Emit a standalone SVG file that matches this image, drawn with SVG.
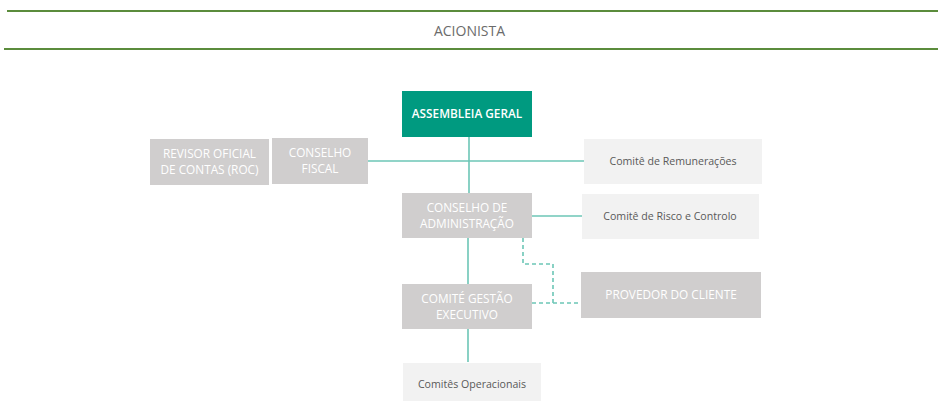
<svg xmlns="http://www.w3.org/2000/svg" width="938" height="401" viewBox="0 0 938 401">
<style>
.g{fill:#d0cece}
.l{fill:#f2f2f2}
.t{font-family:"Open Sans","Liberation Sans",sans-serif;font-size:11.8px;fill:#ffffff;text-anchor:middle}
.d{font-family:"Open Sans","Liberation Sans",sans-serif;font-size:10.6px;fill:#595959;text-anchor:middle}
.c{stroke:#6cc6b6;stroke-width:1.6;fill:none}
.dash{stroke-dasharray:4,3}
</style>
<rect width="938" height="401" fill="#ffffff"/>
<g id="header">
<line x1="7" y1="11" x2="938" y2="11" stroke="#5b8c3c" stroke-width="2"/>
<line x1="4" y1="49" x2="938" y2="49" stroke="#5b8c3c" stroke-width="2"/>
<text x="469.5" y="36" font-family="'Open Sans','Liberation Sans',sans-serif" font-size="14" fill="#6b6b6b" text-anchor="middle">ACIONISTA</text>
</g>
<g id="connectors">
<line class="c" x1="469" y1="137" x2="469" y2="193"/>
<line class="c" x1="368" y1="161" x2="584" y2="161"/>
<line class="c" x1="532" y1="216" x2="582" y2="216"/>
<line class="c" x1="468" y1="238" x2="468" y2="284"/>
<line class="c" x1="468" y1="329" x2="468" y2="362"/>
<polyline class="c dash" points="523,238 523,264 553,264 553,303"/>
<line class="c dash" x1="532" y1="303" x2="582" y2="303"/>
</g>
<g id="assembleia">
<rect x="402" y="91" width="130" height="46" fill="#009a80"/>
<text class="t" x="467" y="118" font-weight="600">ASSEMBLEIA GERAL</text>
</g>
<g id="roc">
<rect class="g" x="150" y="139" width="119" height="46"/>
<text class="t" x="209.5" y="158">REVISOR OFICIAL</text>
<text class="t" x="209.5" y="174">DE CONTAS (ROC)</text>
</g>
<g id="fiscal">
<rect class="g" x="272" y="138" width="96" height="46"/>
<text class="t" x="320" y="157">CONSELHO</text>
<text class="t" x="320" y="173">FISCAL</text>
</g>
<g id="remuneracoes">
<rect class="l" x="584" y="139" width="178" height="45"/>
<text class="d" x="673" y="165">Comitê de Remunerações</text>
</g>
<g id="administracao">
<rect class="g" x="402" y="193" width="130" height="45"/>
<text class="t" x="467" y="212">CONSELHO DE</text>
<text class="t" x="467" y="228">ADMINISTRAÇÃO</text>
</g>
<g id="risco">
<rect class="l" x="582" y="194" width="177" height="45"/>
<text class="d" x="670" y="220">Comitê de Risco e Controlo</text>
</g>
<g id="provedor">
<rect class="g" x="581" y="272" width="180" height="46"/>
<text class="t" x="671" y="299">PROVEDOR DO CLIENTE</text>
</g>
<g id="gestao">
<rect class="g" x="402" y="284" width="130" height="45"/>
<text class="t" x="467" y="303">COMITÉ GESTÃO</text>
<text class="t" x="467" y="319">EXECUTIVO</text>
</g>
<g id="operacionais">
<rect class="l" x="403" y="363" width="138" height="38"/>
<text class="d" x="472" y="388">Comitês Operacionais</text>
</g>
</svg>
